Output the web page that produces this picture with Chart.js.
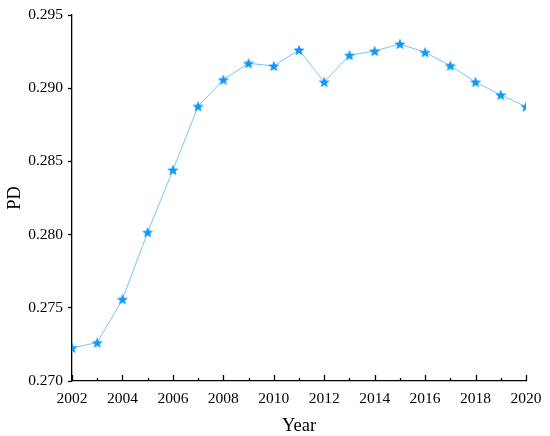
<!DOCTYPE html>
<html>
<head>
<meta charset="utf-8">
<script src="https://cdn.jsdelivr.net/npm/chart.js@4"></script>
<style>
html,body{margin:0;padding:0;background:#fff;}
#wrap{width:550px;height:436px;}
</style>
</head>
<body>
<div id="wrap"><canvas id="c" width="550" height="436"></canvas></div>
<script>
const years = [2002,2003,2004,2005,2006,2007,2008,2009,2010,2011,2012,2013,2014,2015,2016,2017,2018,2019,2020];
const pdValues = [0.27227,0.27262,0.27558,0.28016,0.28441,0.28876,0.29058,0.29170,0.29152,0.29261,0.29042,0.29225,0.29254,0.29302,0.29245,0.29154,0.29042,0.28954,0.28874];
const yTicks = [0.270,0.275,0.280,0.285,0.290,0.295];
const xTickYears = [2002,2004,2006,2008,2010,2012,2014,2016,2018,2020];

function makeStar(color){
  const s = 14, c = document.createElement('canvas');
  c.width = s; c.height = s;
  const g = c.getContext('2d');
  const cx = s/2, cy = s/2 + 0.5, ro = 6.0, ri = 2.6;
  g.beginPath();
  for(let i=0;i<10;i++){
    const r = i%2===0 ? ro : ri;
    const a = -Math.PI/2 + i*Math.PI/5;
    const x = cx + r*Math.cos(a), y = cy + r*Math.sin(a);
    if(i===0) g.moveTo(x,y); else g.lineTo(x,y);
  }
  g.closePath();
  g.fillStyle = color; g.fill();
  return c;
}
const star = makeStar('#0f98f7');

const xTickPlugin = {
  id:'xticks',
  afterDraw(chart){
    const xs = chart.scales.x, ctx = chart.ctx, bottom = chart.chartArea.bottom;
    ctx.save();
    ctx.strokeStyle = '#000';
    ctx.lineWidth = 1.3;
    years.forEach(y=>{
      const px = Math.round(xs.getPixelForValue(y))+0.5;
      const len = xTickYears.includes(y) ? 6 : 3;
      ctx.beginPath();
      ctx.moveTo(px,bottom);
      ctx.lineTo(px,bottom-len);
      ctx.stroke();
    });
    ctx.restore();
  }
};

const font = 'Liberation Serif, Times New Roman, serif';
new Chart(document.getElementById('c'),{
  type:'line',
  data:{
    labels: years,
    datasets:[{
      data: years.map((y,i)=>({x:y,y:pdValues[i]})),
      borderColor:'#78c5f6',
      borderWidth:1,
      pointStyle: star,
      pointRadius:5,
      pointHoverRadius:5,
      tension:0,
      fill:false
    }]
  },
  options:{
    responsive:false,
    animation:false,
    devicePixelRatio:1,
    layout:{padding:{top:15,right:24,left:0,bottom:0}},
    plugins:{legend:{display:false},tooltip:{enabled:false}},
    scales:{
      x:{
        type:'linear',
        min:2002,max:2020,
        afterFit(s){ s.height = 55; },
        grid:{display:false},
        border:{display:true,color:'#000',width:1.3},
        ticks:{
          stepSize:2,
          padding:1,
          maxRotation:0,
          autoSkip:false,
          color:'#000',
          font:{family:font,size:15.5},
          callback:(v)=>String(v)
        },
        title:{display:true,text:'Year',color:'#000',font:{family:font,size:18.5},padding:{top:2,bottom:-1}}
      },
      y:{
        min:0.270,max:0.295,
        afterFit(s){ s.width = 72; },
        afterBuildTicks(s){ s.ticks = yTicks.map(v=>({value:v})); },
        grid:{drawOnChartArea:false,drawTicks:true,tickLength:4,color:'#000',tickWidth:1.3},
        border:{display:true,color:'#000',width:1.3},
        ticks:{
          padding:5,
          color:'#000',
          font:{family:font,size:15.5},
          callback:(v)=>Number(v).toFixed(3)
        },
        title:{display:true,text:'PD',color:'#000',font:{family:font,size:18.5},padding:{top:4,bottom:0}}
      }
    }
  },
  plugins:[xTickPlugin]
});
</script>
</body>
</html>
